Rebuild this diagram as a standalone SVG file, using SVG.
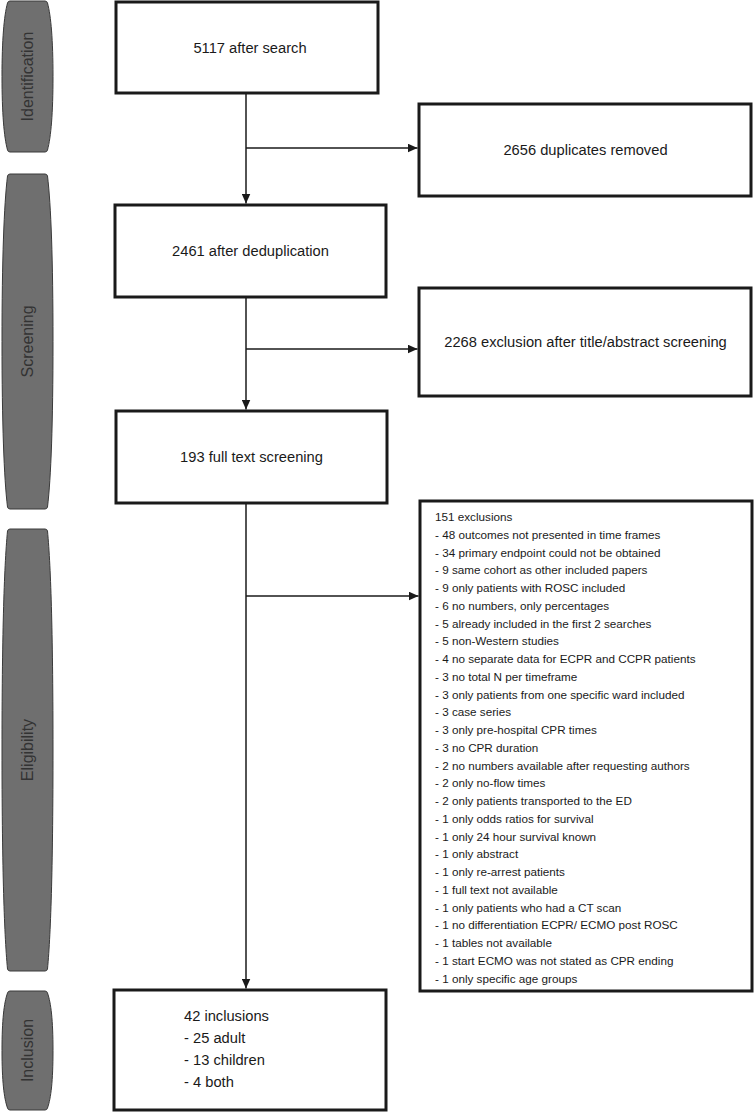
<svg xmlns="http://www.w3.org/2000/svg" width="756" height="1112" viewBox="0 0 756 1112">
<defs>
<style>
.box{fill:#fff;stroke:#1a1a1a;stroke-width:3}
.phase{fill:#6f6f6f;stroke:#3a3a3a;stroke-width:1}
.ptxt{font-family:"Liberation Sans",Arial,sans-serif;font-size:16px;fill:#333;text-anchor:middle}
.t{font-family:"Liberation Sans",Arial,sans-serif;font-size:14.7px;fill:#1a1a1a}
.c{text-anchor:middle}
.s{font-family:"Liberation Sans",Arial,sans-serif;font-size:11.7px;fill:#1a1a1a}
.con{stroke:#1a1a1a;stroke-width:1.5;fill:none}
</style>
<marker id="ah" markerUnits="userSpaceOnUse" markerWidth="10" markerHeight="9" refX="10" refY="4.5" orient="auto">
<path d="M0,0 L10,4.5 L0,9 z" fill="#1a1a1a"/>
</marker>
</defs>
<g id="phase-identification">
<path class="phase" d="M10 1 Q8 1 7.5 3 C4 16 2 40 2 76.5 C2 113 4 137 7.5 150 Q8 152 10 152 L45 152 Q47 152 47.5 150 C51 137 53 113 53 76.5 C53 40 51 16 47.5 3 Q47 1 45 1 Z"/>
<text class="ptxt" transform="translate(32.5,76.5) rotate(-90)">Identification</text>
</g>
<g id="phase-screening">
<path class="phase" d="M10 174 Q8 174 7.5 176 C4 205 2 260 2 341.5 C2 423 4 478 7.5 507 Q8 509 10 509 L45 509 Q47 509 47.5 507 C51 478 53 423 53 341.5 C53 260 51 205 47.5 176 Q47 174 45 174 Z"/>
<text class="ptxt" transform="translate(32.5,341.5) rotate(-90)">Screening</text>
</g>
<g id="phase-eligibility">
<path class="phase" d="M10 529 Q8 529 7.5 531 C4 568 2 640 2 750 C2 860 4 932 7.5 969 Q8 971 10 971 L45 971 Q47 971 47.5 969 C51 932 53 860 53 750 C53 640 51 568 47.5 531 Q47 529 45 529 Z"/>
<text class="ptxt" transform="translate(32.5,750) rotate(-90)">Eligibility</text>
</g>
<g id="phase-inclusion">
<path class="phase" d="M10 991 Q8 991 7.5 993 C4 1003 2 1020 2 1050.5 C2 1081 4 1098 7.5 1108 Q8 1110 10 1110 L45 1110 Q47 1110 47.5 1108 C51 1098 53 1081 53 1050.5 C53 1020 51 1003 47.5 993 Q47 991 45 991 Z"/>
<text class="ptxt" transform="translate(32.5,1050.5) rotate(-90)">Inclusion</text>
</g>
<g id="connectors">
<line class="con" x1="246" y1="93" x2="246" y2="203.5" marker-end="url(#ah)"/>
<line class="con" x1="246" y1="148" x2="417.5" y2="148" marker-end="url(#ah)"/>
<line class="con" x1="246" y1="297" x2="246" y2="409.5" marker-end="url(#ah)"/>
<line class="con" x1="246" y1="349" x2="417.5" y2="349" marker-end="url(#ah)"/>
<line class="con" x1="246" y1="503" x2="246" y2="988.5" marker-end="url(#ah)"/>
<line class="con" x1="246" y1="596" x2="418.5" y2="596" marker-end="url(#ah)"/>
</g>
<g id="n-search">
<rect class="box" x="116" y="2" width="262" height="91"/>
<text class="t c" x="250" y="52.5">5117 after search</text>
</g>
<g id="n-duplicates">
<rect class="box" x="419" y="104" width="332" height="92"/>
<text class="t c" x="585.5" y="155">2656 duplicates removed</text>
</g>
<g id="n-dedup">
<rect class="box" x="115" y="205" width="271" height="92"/>
<text class="t c" x="250.5" y="256">2461 after deduplication</text>
</g>
<g id="n-title-abstract">
<rect class="box" x="419" y="288" width="332" height="108"/>
<text class="t c" x="585.5" y="347">2268 exclusion after title/abstract screening</text>
</g>
<g id="n-fulltext">
<rect class="box" x="116" y="411" width="271" height="92"/>
<text class="t c" x="251.5" y="462">193 full text screening</text>
</g>
<g id="n-exclusions">
<rect class="box" x="420" y="501" width="332" height="490"/>
<text class="s">
<tspan x="435" y="521">151 exclusions</tspan>
<tspan x="435" y="538.75">- 48 outcomes not presented in time frames</tspan>
<tspan x="435" y="556.5">- 34 primary endpoint could not be obtained</tspan>
<tspan x="435" y="574.25">- 9 same cohort as other included papers</tspan>
<tspan x="435" y="592">- 9 only patients with ROSC included</tspan>
<tspan x="435" y="609.75">- 6 no numbers, only percentages</tspan>
<tspan x="435" y="627.5">- 5 already included in the first 2 searches</tspan>
<tspan x="435" y="645.25">- 5 non-Western studies</tspan>
<tspan x="435" y="663">- 4 no separate data for ECPR and CCPR patients</tspan>
<tspan x="435" y="680.75">- 3 no total N per timeframe</tspan>
<tspan x="435" y="698.5">- 3 only patients from one specific ward included</tspan>
<tspan x="435" y="716.25">- 3 case series</tspan>
<tspan x="435" y="734">- 3 only pre-hospital CPR times</tspan>
<tspan x="435" y="751.75">- 3 no CPR duration</tspan>
<tspan x="435" y="769.5">- 2 no numbers available after requesting authors</tspan>
<tspan x="435" y="787.25">- 2 only no-flow times</tspan>
<tspan x="435" y="805">- 2 only patients transported to the ED</tspan>
<tspan x="435" y="822.75">- 1 only odds ratios for survival</tspan>
<tspan x="435" y="840.5">- 1 only 24 hour survival known</tspan>
<tspan x="435" y="858.25">- 1 only abstract</tspan>
<tspan x="435" y="876">- 1 only re-arrest patients</tspan>
<tspan x="435" y="893.75">- 1 full text not available</tspan>
<tspan x="435" y="911.5">- 1 only patients who had a CT scan</tspan>
<tspan x="435" y="929.25">- 1 no differentiation ECPR/ ECMO post ROSC</tspan>
<tspan x="435" y="947">- 1 tables not available</tspan>
<tspan x="435" y="964.75">- 1 start ECMO was not stated as CPR ending</tspan>
<tspan x="435" y="982.5">- 1 only specific age groups</tspan>
</text>
</g>
<g id="n-inclusions">
<rect class="box" x="114" y="990" width="272" height="120"/>
<text class="t">
<tspan x="184" y="1021">42 inclusions</tspan>
<tspan x="184" y="1043">- 25 adult</tspan>
<tspan x="184" y="1065">- 13 children</tspan>
<tspan x="184" y="1087">- 4 both</tspan>
</text>
</g>
</svg>
